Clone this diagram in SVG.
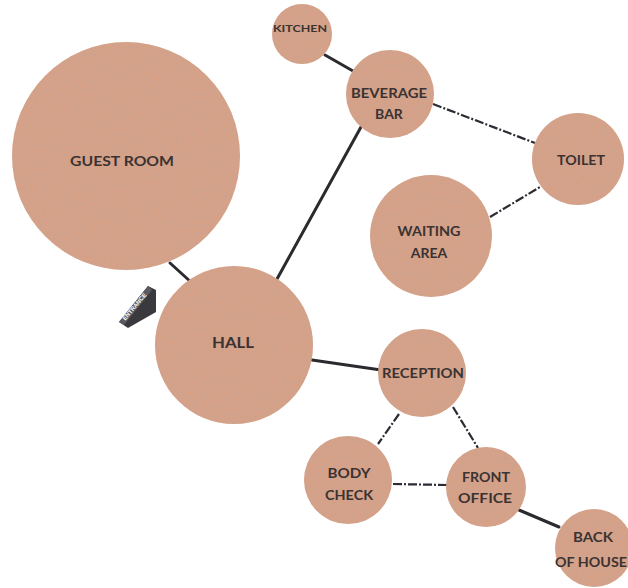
<svg xmlns="http://www.w3.org/2000/svg" width="628" height="588" viewBox="0 0 628 588">
  <defs>
    <!-- fine speckle for the room discs -->
    <filter id="grain" x="0" y="0" width="100%" height="100%">
      <feTurbulence type="fractalNoise" baseFrequency="0.9" numOctaves="2" seed="4" result="noise"/>
      <feColorMatrix in="noise" type="matrix" values="0 0 0 0 0.45  0 0 0 0 0.36  0 0 0 0 0.34  0 0 0 0.9 -0.3" result="specks"/>
      <feComposite in="specks" in2="SourceGraphic" operator="in" result="clipped"/>
      <feMerge>
        <feMergeNode in="SourceGraphic"/>
        <feMergeNode in="clipped"/>
      </feMerge>
    </filter>
  </defs>
  <style>
    .room { fill: #d9a286; filter: url(#grain); }
    .label { font-family: Lato, "Open Sans", sans-serif; font-weight: bold; fill: #3b3232; text-anchor: middle; }
    .solid { stroke: #2b2b2f; stroke-width: 3; fill: none; stroke-linecap: round; }
    .dashdot { stroke: #2b2b33; stroke-width: 2.2; fill: none; stroke-dasharray: 9 2 2 2; }
  </style>
  <rect width="628" height="588" fill="#ffffff"/>

  <!-- connectors -->
  <g id="connectors">
    <line class="solid" x1="325" y1="55" x2="353" y2="71"/>
    <line class="solid" x1="361" y1="127" x2="277" y2="279"/>
    <line class="solid" x1="170" y1="263" x2="192" y2="283"/>
    <line class="solid" x1="312" y1="360" x2="381" y2="370"/>
    <line class="solid" x1="519" y1="510" x2="559" y2="527"/>
    <line class="dashdot" x1="433" y1="104" x2="535" y2="143"/>
    <line class="dashdot" x1="490" y1="217" x2="540" y2="187"/>
    <line class="dashdot" x1="399" y1="414" x2="378" y2="444"/>
    <line class="dashdot" x1="453" y1="407" x2="478" y2="448"/>
    <line class="dashdot" x1="393" y1="484" x2="447" y2="485"/>
  </g>

  <!-- entrance marker -->
  <g id="entrance">
    <polygon points="119,322 148,286 156,290 156,312 128,328" fill="#3a3a3e"/>
    <polygon points="119,322 148,286 152,290 124,325" fill="#5a5a60"/>
    <text x="0" y="0" transform="translate(136,308) rotate(-50)" font-family="'Liberation Sans', sans-serif" font-size="6" font-weight="bold" fill="#ffffff" text-anchor="middle">ENTRANCE</text>
  </g>

  <g id="guest-room">
    <circle class="room" cx="126" cy="156" r="114"/>
    <text class="label" x="122" y="166" font-size="14" textLength="104" lengthAdjust="spacingAndGlyphs">GUEST ROOM</text>
  </g>

  <g id="hall">
    <circle class="room" cx="234" cy="345" r="79"/>
    <text class="label" x="233" y="348" font-size="16" textLength="42" lengthAdjust="spacingAndGlyphs">HALL</text>
  </g>

  <g id="kitchen">
    <circle class="room" cx="302" cy="34" r="30"/>
    <text class="label" x="300" y="32" font-size="10" textLength="54" lengthAdjust="spacingAndGlyphs">KITCHEN</text>
  </g>

  <g id="beverage-bar">
    <circle class="room" cx="390" cy="94" r="44"/>
    <text class="label" x="389" y="98" font-size="14" textLength="76" lengthAdjust="spacingAndGlyphs">BEVERAGE</text>
    <text class="label" x="389" y="119" font-size="14">BAR</text>
  </g>

  <g id="toilet">
    <circle class="room" cx="578" cy="159" r="46"/>
    <text class="label" x="581" y="165" font-size="14" textLength="48" lengthAdjust="spacingAndGlyphs">TOILET</text>
  </g>

  <g id="waiting-area">
    <circle class="room" cx="431" cy="236" r="61"/>
    <text class="label" x="429" y="236" font-size="14" textLength="63" lengthAdjust="spacingAndGlyphs">WAITING</text>
    <text class="label" x="429" y="258" font-size="14">AREA</text>
  </g>

  <g id="reception">
    <circle class="room" cx="422" cy="373" r="44"/>
    <text class="label" x="423" y="378" font-size="14" textLength="82" lengthAdjust="spacingAndGlyphs">RECEPTION</text>
  </g>

  <g id="body-check">
    <circle class="room" cx="348" cy="480" r="44"/>
    <text class="label" x="349" y="478" font-size="14" textLength="43" lengthAdjust="spacingAndGlyphs">BODY</text>
    <text class="label" x="349" y="500" font-size="14" textLength="48" lengthAdjust="spacingAndGlyphs">CHECK</text>
  </g>

  <g id="front-office">
    <circle class="room" cx="486" cy="487" r="40"/>
    <text class="label" x="486" y="482" font-size="14" textLength="48" lengthAdjust="spacingAndGlyphs">FRONT</text>
    <text class="label" x="485" y="503" font-size="14" textLength="54" lengthAdjust="spacingAndGlyphs">OFFICE</text>
  </g>

  <g id="back-of-house">
    <circle class="room" cx="594" cy="548" r="39"/>
    <text class="label" x="593" y="542" font-size="14" textLength="40" lengthAdjust="spacingAndGlyphs">BACK</text>
    <text class="label" x="591" y="567" font-size="14" textLength="72" lengthAdjust="spacingAndGlyphs">OF HOUSE</text>
  </g>
</svg>
